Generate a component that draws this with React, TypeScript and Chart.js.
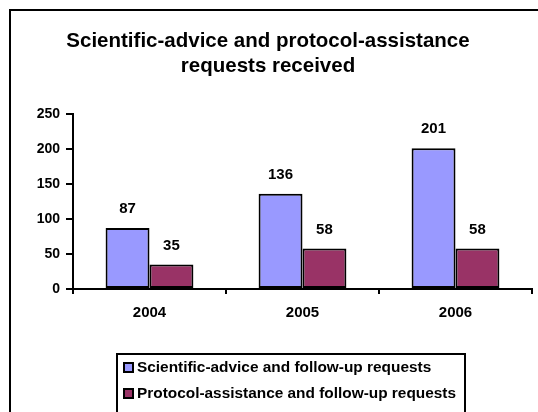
import React, { useEffect, useRef } from "react";
import { Chart, registerables } from "chart.js";

Chart.register(...registerables);

const categories = ["2004", "2005", "2006"];
const scientificAdvice = [87, 136, 201];
const protocolAssistance = [35, 58, 58];
const seriesNames = [
  "Scientific-advice and follow-up requests",
  "Protocol-assistance and follow-up requests",
];
const titleLines = [
  "Scientific-advice and protocol-assistance",
  "requests received",
];
const seriesColors = ["#9999FF", "#993366"];

const FONT = "'Liberation Sans', Arial, sans-serif";

const decorPlugin = {
  id: "decor",
  beforeDraw(chart: any) {
    const ctx = chart.ctx;
    ctx.save();
    ctx.fillStyle = "#ffffff";
    ctx.fillRect(0, 0, chart.width, chart.height);
    ctx.strokeStyle = "#000";
    ctx.lineWidth = 2;
    ctx.strokeRect(10, 10, chart.width + 20, chart.height + 20);
    // title
    ctx.fillStyle = "#000";
    ctx.font = `bold 20.5px ${FONT}`;
    ctx.textAlign = "center";
    ctx.textBaseline = "alphabetic";
    ctx.fillText(titleLines[0], 268, 47);
    ctx.fillText(titleLines[1], 268, 72);
    ctx.restore();
  },
  afterDraw(chart: any) {
    const ctx = chart.ctx;
    ctx.save();
    // data labels
    ctx.fillStyle = "#000";
    ctx.font = `bold 15px ${FONT}`;
    ctx.textAlign = "center";
    ctx.textBaseline = "middle";
    chart.data.datasets.forEach((ds: any, di: number) => {
      const meta = chart.getDatasetMeta(di);
      meta.data.forEach((bar: any, i: number) => {
        ctx.fillText(String(ds.data[i]), bar.x, bar.y - 19);
      });
    });
    // legend
    ctx.strokeStyle = "#000";
    ctx.lineWidth = 2;
    ctx.strokeRect(117, 354, 348, 100);
    ctx.font = `bold 15.4px ${FONT}`;
    ctx.textAlign = "left";
    const rows = [368, 394];
    seriesNames.forEach((name, i) => {
      const y = rows[i];
      ctx.fillStyle = seriesColors[i];
      ctx.fillRect(124, y - 5, 9, 9);
      ctx.lineWidth = 2;
      ctx.strokeRect(124, y - 5, 9, 9);
      ctx.fillStyle = "#000";
      ctx.fillText(name, 137, y);
    });
    ctx.restore();
  },
};

export default function App() {
  const ref = useRef<HTMLCanvasElement>(null);
  useEffect(() => {
    if (!ref.current) return;
    const chart = new Chart(ref.current, {
      type: "bar",
      data: {
        labels: categories,
        datasets: [
          {
            label: seriesNames[0],
            data: scientificAdvice,
            backgroundColor: seriesColors[0],
            borderColor: "#000",
            borderWidth: 2,
            borderSkipped: false,
            categoryPercentage: 0.574,
            barPercentage: 1,
          },
          {
            label: seriesNames[1],
            data: protocolAssistance,
            backgroundColor: seriesColors[1],
            borderColor: "#000",
            borderWidth: 2,
            borderSkipped: false,
            categoryPercentage: 0.574,
            barPercentage: 1,
          },
        ],
      },
      options: {
        responsive: false,
        animation: false,
        devicePixelRatio: 1,
        layout: { padding: { left: 0, right: 6, top: 114, bottom: 0 } },
        plugins: {
          legend: { display: false },
          title: { display: false },
          tooltip: { enabled: false },
        },
        scales: {
          x: {
            grid: {
              offset: true,
              drawOnChartArea: false,
              tickLength: 5,
              color: "#000",
              lineWidth: 2,
            },
            border: { color: "#000", width: 2 },
            ticks: {
              color: "#000",
              font: { family: FONT, size: 15, weight: "bold" },
              padding: 10,
            },
            afterFit: (s: any) => {
              s.height = 123;
            },
          },
          y: {
            min: 0,
            max: 250,
            ticks: {
              stepSize: 50,
              color: "#000",
              font: { family: FONT, size: 14, weight: "bold" },
              padding: 6,
            },
            grid: {
              drawOnChartArea: false,
              tickLength: 7,
              color: "#000",
              lineWidth: 2,
            },
            border: { color: "#000", width: 2 },
            afterFit: (s: any) => {
              s.width = 73;
            },
          },
        },
      },
      plugins: [decorPlugin],
    } as any);
    return () => chart.destroy();
  }, []);
  return (
    <div style={{ position: "fixed", left: 0, top: 0, width: 538, height: 412 }}>
      <canvas ref={ref} width={538} height={412} style={{ display: "block" }} />
    </div>
  );
}
